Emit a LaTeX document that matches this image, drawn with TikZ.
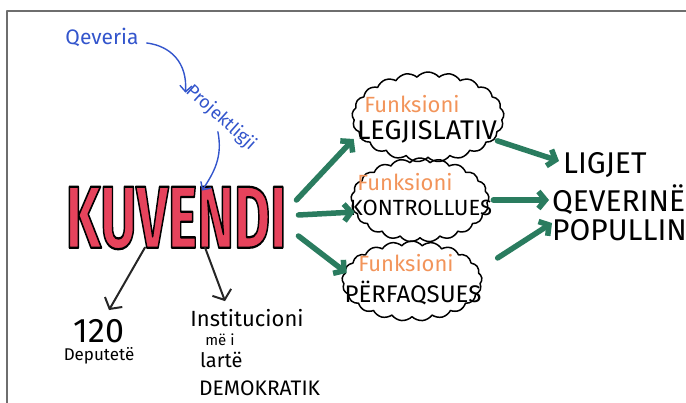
\documentclass[tikz,border=0pt]{standalone}
\usepackage{fontspec}
\setmainfont{Fira Sans}
\newfontfamily\kuvfont[FakeBold=2.6]{Fira Sans}
\usetikzlibrary{arrows.meta,shapes.symbols,positioning}

\definecolor{kred}{HTML}{E6435C}
\definecolor{kblue}{HTML}{3355CC}
\definecolor{kgreen}{HTML}{2A7C5F}
\definecolor{korange}{HTML}{F2945A}
\definecolor{kframe}{HTML}{6E6E6E}

\begin{document}
\begin{tikzpicture}[x=1pt,y=-1pt,line cap=round,line join=round]
  \tikzstyle{cloudbox}=[cloud, cloud puffs=21, cloud puff arc=100, cloud ignores aspect, draw, line width=1.5pt, inner sep=0pt]
  \tikzstyle{hand}=[inner sep=0pt]
  \tikzstyle{func}=[hand, text=korange, font=\fontsize{22}{22}\selectfont]
  \tikzstyle{role}=[hand, font=\fontsize{22}{22}\selectfont]
  \tikzstyle{result}=[hand, anchor=west, font=\fontsize{30}{30}\selectfont]
  \tikzstyle{blue arrow}=[kblue, line width=1.4pt, -{Straight Barb[length=6pt,width=12pt]}]
  \tikzstyle{black arrow}=[black!85, line width=2pt, -{Straight Barb[length=8pt,width=20pt]}]
  \tikzstyle{green arrow}=[kgreen, line width=5.5pt, -{Straight Barb[length=7pt,width=17pt]}]

  \useasboundingbox (0,0) rectangle (686,403);
  \draw[kframe, line width=2.5pt, line cap=butt] (7,403) -- (7,11) -- (686,11);

  % the assembly: red letters, black outline
  \node[hand, font=\kuvfont\bfseries\fontsize{88}{88}\selectfont] (kuvendi) at (176,218)
    {\scalebox{0.63}[1]{\special{pdf:bcolor [0.902 0.263 0.361] [0 0 0]}KUVENDI\special{pdf:ecolor}}};

  % where the bills come from
  \node[hand, text=kblue, font=\fontsize{21}{21}\selectfont] (qeveria) at (102,37) {Qeveria};
  \node[hand, text=kblue, font=\fontsize{18}{18}\selectfont, rotate=-42] (projekt) at (221,118) {Projektligji};
  \draw[blue arrow] ([shift={(8pt,-6pt)}]qeveria.east) .. controls +(24,3) and +(2,-30) .. ([shift={(-3pt,-4pt)}]projekt.west);
  \draw[blue arrow] ([shift={(3pt,-7pt)}]projekt.south) .. controls +(5,25) and +(12,-18) .. ([shift={(26pt,-4pt)}]kuvendi.north);

  % composition and character
  \node[hand, font=\fontsize{34}{34}\selectfont] (numri) at (99,331) {120};
  \node[hand, font=\fontsize{17}{17}\selectfont, below=4pt of numri] (deputete) {Deputetë};
  \draw[black arrow] ([shift={(-31pt,2pt)}]kuvendi.south) -- ([shift={(10pt,9pt)}]numri.north);

  \node[hand, font=\fontsize{22}{22}\selectfont] (inst) at (247,318) {Institucioni};
  \node[hand, font=\fontsize{15}{15}\selectfont] (mei) at (220,340) {më i};
  \node[hand, font=\fontsize{20}{20}\selectfont, anchor=west] (larte) at (200,360) {lartë};
  \node[hand, font=\fontsize{21}{21}\selectfont, anchor=west] (demok) at (199,388) {DEMOKRATIK};
  \draw[black arrow] ([shift={(29pt,2pt)}]kuvendi.south) -- ([shift={(-22pt,8pt)}]inst.north);

  % the three functions
  \node[cloudbox, minimum width=152pt, minimum height=90pt] (leg) at (428,117) {};
  \node[func] (legf) at (412,104) {Funksioni};
  \node[role, font=\fontsize{27}{27}\selectfont] (legr) at (427,132) {LEGJISLATIV};

  \node[cloudbox, minimum width=138pt, minimum height=84pt] (kon) at (420,200) {};
  \node[func] (konf) at (405,182) {Funksioni};
  \node[role] (konr) at (421,208) {KONTROLLUES};

  \node[cloudbox, minimum width=140pt, minimum height=80pt] (per) at (412,281) {};
  \node[func] (perf) at (406,263) {Funksioni};
  \node[role, font=\fontsize{24}{24}\selectfont] (perr) at (413,293) {PËRFAQSUES};

  \draw[green arrow] ([shift={(10pt,18pt)}]kuvendi.east) -- ([shift={(2pt,-22pt)}]leg.west);
  \draw[green arrow] ([shift={(12pt,3pt)}]kuvendi.east) -- ([shift={(4pt,-12pt)}]kon.west);
  \draw[green arrow] ([shift={(12pt,-18pt)}]kuvendi.east) -- ([shift={(5pt,8pt)}]per.west);

  % what they act on
  \node[result] (ligjet) at (563,165) {LIGJET};
  \node[result] (qeverine) at (552,200) {QEVERINË};
  \node[result] (popullin) at (552,230) {POPULLIN};

  \draw[green arrow] ([xshift=4pt]leg.-20) -- ([shift={(-4pt,4pt)}]ligjet.west);
  \draw[green arrow] ([xshift=4pt]kon.east) -- ([xshift=-3pt]qeverine.west);
  \draw[green arrow] ([shift={(22pt,6pt)}]per.15) -- ([shift={(0pt,7pt)}]popullin.west);
\end{tikzpicture}
\end{document}
